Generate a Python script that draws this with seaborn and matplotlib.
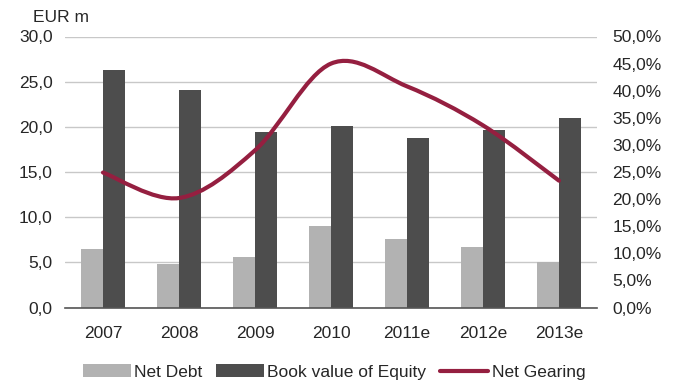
import matplotlib
matplotlib.use("Agg")
import matplotlib.pyplot as plt
import seaborn as sns
import pandas as pd
import numpy as np
from matplotlib.path import Path
from matplotlib.patches import PathPatch, Patch
from matplotlib.lines import Line2D

years = ["2007", "2008", "2009", "2010", "2011e", "2012e", "2013e"]
net_debt = [6.5, 4.8, 5.6, 9.0, 7.6, 6.7, 5.0]
book_equity = [26.3, 24.1, 19.4, 20.1, 18.8, 19.7, 21.0]
net_gearing = [24.9, 20.2, 29.0, 45.0, 40.8, 33.6, 23.4]
left_ticks = [0, 5, 10, 15, 20, 25, 30]
right_ticks = [0, 5, 10, 15, 20, 25, 30, 35, 40, 45, 50]

c_nd = "#b2b2b2"
c_eq = "#4d4d4d"
c_line = "#951f40"
c_text = "#262626"
fs = 12.5

sns.set_theme(style="white")
plt.rcParams["font.family"] = ["Liberation Sans", "DejaVu Sans"]

df = pd.DataFrame({
    "year": years * 2,
    "value": net_debt + book_equity,
    "series": ["Net Debt"] * len(years) + ["Book value of Equity"] * len(years),
})

fig = plt.figure(figsize=(6.79, 3.82), dpi=100)
ax = fig.add_axes([65 / 679, 1 - 307.5 / 382, 532 / 679, 271 / 382])
sns.barplot(data=df, x="year", y="value", hue="series",
            palette=[c_nd, c_eq], width=0.58, saturation=1, linewidth=0,
            ax=ax, legend=False)
ax.set_xlim(-0.5, 6.5)
ax.set_ylim(0, 30)
ax.set_yticks(left_ticks)
ax.set_yticklabels([f"{v:.1f}".replace(".", ",") for v in left_ticks])
ax.set_xlabel("")
ax.set_ylabel("")
ax.grid(axis="y", color="#c8c8c8", linewidth=1)
ax.set_axisbelow(True)
for s in ["top", "left", "right"]:
    ax.spines[s].set_visible(False)
ax.spines["bottom"].set_color("#555555")
ax.spines["bottom"].set_linewidth(1.2)
ax.tick_params(axis="both", length=0, labelsize=fs, colors=c_text)
ax.tick_params(axis="x", pad=13)
ax.tick_params(axis="y", pad=9)

ax2 = ax.twinx()
ax2.set_ylim(0, 50)
ax2.set_yticks(right_ticks)
ax2.set_yticklabels([f"{v:.1f}".replace(".", ",") + "%" for v in right_ticks])
ax2.tick_params(axis="y", length=0, labelsize=fs, colors=c_text, pad=11)
for s in ["top", "left", "right", "bottom"]:
    ax2.spines[s].set_visible(False)

# smooth line (Catmull-Rom -> cubic Bezier) through the data points
xs = np.arange(len(years), dtype=float)
ys = np.array(net_gearing, dtype=float)
verts = [(xs[0], ys[0])]
codes = [Path.MOVETO]
t = 1 / 6
for i in range(len(xs) - 1):
    p0 = np.array([xs[max(i - 1, 0)], ys[max(i - 1, 0)]])
    p1 = np.array([xs[i], ys[i]])
    p2 = np.array([xs[i + 1], ys[i + 1]])
    p3 = np.array([xs[min(i + 2, len(xs) - 1)], ys[min(i + 2, len(xs) - 1)]])
    c1 = p1 + (p2 - p0) * t
    c2 = p2 - (p3 - p1) * t
    verts += [tuple(c1), tuple(c2), tuple(p2)]
    codes += [Path.CURVE4] * 3
ax2.add_patch(PathPatch(Path(verts, codes), facecolor="none", edgecolor=c_line,
                        linewidth=3.0, capstyle="round", joinstyle="round"))

fig.text(33 / 679, 1 - 17 / 382, "EUR m", fontsize=fs, color=c_text, va="center")

handles = [Patch(facecolor=c_nd, edgecolor="none"),
           Patch(facecolor=c_eq, edgecolor="none"),
           Line2D([0], [0], color=c_line, linewidth=3.0, solid_capstyle="round")]
fig.legend(handles, ["Net Debt", "Book value of Equity", "Net Gearing"],
           loc="center", bbox_to_anchor=(334 / 679, 1 - 372 / 382), ncol=3,
           frameon=False, fontsize=fs, handlelength=2.75, handleheight=0.8,
           handletextpad=0.2, columnspacing=0.8, labelcolor=c_text)

fig.savefig("out.png", dpi=100)
